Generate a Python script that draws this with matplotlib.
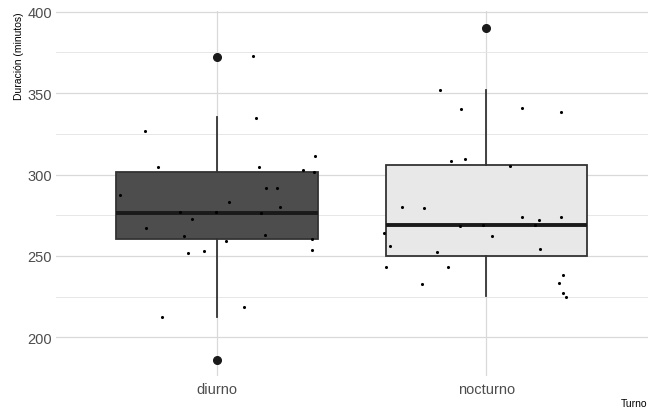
import matplotlib
matplotlib.use("Agg")
import matplotlib.pyplot as plt
from matplotlib.ticker import MultipleLocator

plt.rcParams['font.family'] = ['Liberation Sans', 'DejaVu Sans']

turnos = ["diurno", "nocturno"]

# box stats
q1 = [260.2, 249.9]
med = [276.4, 269.2]
q3 = [301.7, 306.0]
whislo = [212.3, 225.4]
whishi = [335.1, 352.1]
outliers = [[372.2, 186.2], [390.2]]

# jittered observations (value, horizontal jitter)
diurno_vals = [372.6, 334.7, 326.7, 304.6, 304.4, 311.4, 302.9, 301.3, 287.4,
               291.5, 291.7, 282.9, 280.0, 276.8, 276.8, 276.6, 272.9, 267.0,
               262.0, 262.8, 259.3, 260.6, 252.0, 252.8, 253.6, 218.4, 212.7]
diurno_jit = [0.132, 0.143, -0.269, -0.219, 0.155, 0.363, 0.317, 0.360, -0.361,
              0.180, 0.222, 0.042, 0.233, -0.140, -0.006, 0.164, -0.093, -0.265,
              -0.125, 0.177, 0.033, 0.353, -0.109, -0.049, 0.353, 0.100, -0.207]
nocturno_vals = [352.1, 340.2, 340.8, 338.2, 308.3, 309.5, 305.2, 280.2, 279.2,
                 273.9, 272.0, 273.9, 268.2, 269.2, 268.8, 264.1, 262.2, 256.1,
                 252.6, 254.4, 243.0, 243.2, 238.3, 232.9, 233.3, 227.0, 224.9]
nocturno_jit = [-0.172, -0.095, 0.132, 0.277, -0.131, -0.080, 0.089, -0.315, -0.232,
                0.133, 0.197, 0.278, -0.097, -0.013, 0.182, -0.381, 0.022, -0.357,
                -0.182, 0.200, -0.374, -0.141, 0.286, -0.240, 0.270, 0.283, 0.297]

fills = ["#4d4d4d", "#e8e8e8"]

fig = plt.figure(figsize=(6.6, 4.1), dpi=100)
ax = fig.add_axes([0.0848, 0.0795, 0.8967, 0.891])

stats = []
for i in range(2):
    stats.append(dict(med=med[i], q1=q1[i], q3=q3[i], whislo=whislo[i],
                      whishi=whishi[i], fliers=outliers[i], label=turnos[i]))

bp = ax.bxp(stats, positions=[0, 1], widths=0.75, patch_artist=True,
            showcaps=False,
            boxprops=dict(edgecolor="#333333", linewidth=1.3),
            whiskerprops=dict(color="#333333", linewidth=1.3),
            medianprops=dict(color="#1a1a1a", linewidth=2.8),
            flierprops=dict(marker="o", markerfacecolor="#1a1a1a",
                            markeredgecolor="#1a1a1a", markersize=5.5))
for patch, c in zip(bp["boxes"], fills):
    patch.set_facecolor(c)

ax.scatter([0 + j for j in diurno_jit], diurno_vals, s=5, color="black", zorder=5, linewidths=0)
ax.scatter([1 + j for j in nocturno_jit], nocturno_vals, s=5, color="black", zorder=5, linewidths=0)

ax.set_xlim(-0.6, 1.6)
ax.set_ylim(176, 400.4)
ax.yaxis.set_major_locator(MultipleLocator(50))
ax.yaxis.set_minor_locator(MultipleLocator(25))
ax.set_xticks([0, 1])
ax.set_xticklabels(turnos)

ax.grid(True, which="major", color="#d9d9d9", linewidth=0.9)
ax.grid(True, which="minor", axis="y", color="#e3e3e3", linewidth=0.6)
ax.set_axisbelow(True)
for s in ax.spines.values():
    s.set_visible(False)
ax.tick_params(which="both", length=0, labelsize=10.5, colors="#4d4d4d", pad=3)
ax.tick_params(axis="x", pad=4)

ax.set_xlabel("Turno", fontsize=7.5, ha="right", va="top")
ax.xaxis.set_label_coords(1.0, -0.06)
ax.set_ylabel("Duración (minutos)", loc="top", fontsize=7.5, labelpad=2)

fig.savefig("out.png", dpi=100)
